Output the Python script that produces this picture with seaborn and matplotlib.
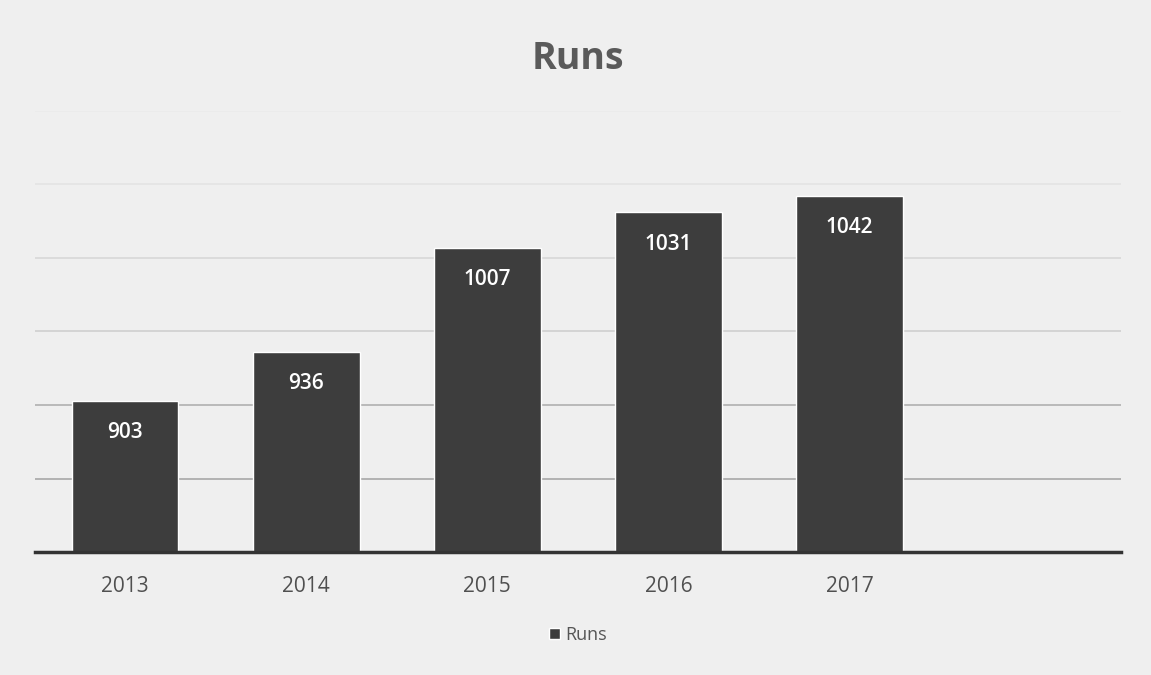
import pandas as pd
import matplotlib.pyplot as plt
import seaborn as sns

# datos
years = ["2013", "2014", "2015", "2016", "2017"]
runs = [903, 936, 1007, 1031, 1042]

df = pd.DataFrame({"Year": years, "Runs": runs})

sns.set_theme(style="white")
plt.rcParams['font.family'] = ['Open Sans', 'DejaVu Sans']

fig = plt.figure(figsize=(11.51, 6.75), dpi=100)
fig.patch.set_facecolor("#efefef")
ax = fig.add_axes([0.030, 0.182, 0.944, 0.654])
ax.set_facecolor("#efefef")

sns.barplot(data=df, x="Year", y="Runs", color="#3d3d3d", width=0.59,
            saturation=1, ax=ax, label="Runs", zorder=3)

ax.set_ylim(800, 1100)
ax.set_xlim(-0.5, 5.5)
ax.set_yticks([850, 900, 950, 1000, 1050, 1100])
ax.yaxis.grid(True, linewidth=1.2, zorder=0)
# las lineas de arriba se ven mas claras en el original escaneado
grid_colors = ["#a8a8a8", "#b0b0b0", "#cfcfcf", "#d8d8d8", "#e4e4e4", "#ebebeb"]
for gl, c in zip(ax.get_ygridlines(), grid_colors):
    gl.set_color(c)
ax.tick_params(axis="y", left=False, labelleft=False)
ax.tick_params(axis="x", bottom=False, labelsize=15, labelcolor="#505050", pad=11)
ax.set_xlabel("")
ax.set_ylabel("")

for s in ["top", "right", "left"]:
    ax.spines[s].set_visible(False)
ax.spines["bottom"].set_color("#333333")
ax.spines["bottom"].set_linewidth(2.5)
ax.spines["bottom"].set_zorder(4)

# etiquetas de valores
for p, v in zip(ax.patches, runs):
    ax.annotate(str(v), (p.get_x() + p.get_width() / 2, v), xytext=(0, -23),
                textcoords="offset points", ha="center", va="center",
                color="white", fontsize=15, fontweight="semibold")

fig.text(0.502, 0.913, "Runs", ha="center", va="center", fontsize=27,
         fontweight="bold", color="#5a5a5a")

ax.legend(loc="upper center", bbox_to_anchor=(0.5, -0.13), frameon=False,
          fontsize=13, labelcolor="#555555", handlelength=0.6, handleheight=0.6,
          handletextpad=0.3)

fig.savefig("out.png", dpi=100, facecolor=fig.get_facecolor())
